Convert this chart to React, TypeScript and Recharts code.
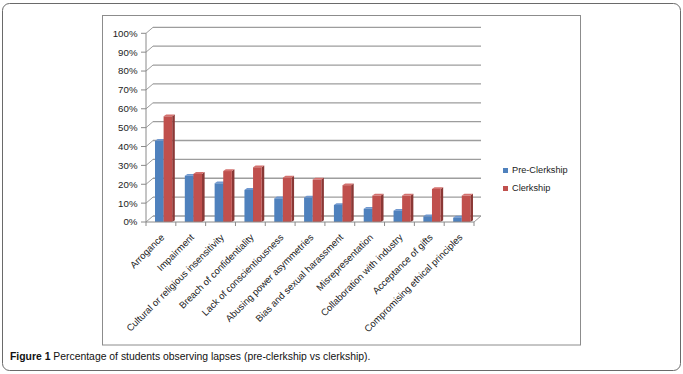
import React from 'react';
import { BarChart, Bar, XAxis, YAxis, CartesianGrid } from 'recharts';

const categories = [
  'Arrogance',
  'Impairment',
  'Cultural or religious insensitivity',
  'Breach of confidentiality',
  'Lack of conscientiousness',
  'Abusing power asymmetries',
  'Bias and sexual harassment',
  'Misrepresentation',
  'Collaboration with industry',
  'Acceptance of gifts',
  'Compromising ethical principles',
];
const preClerkship = [43, 24.5, 20.5, 17, 12.5, 13, 9, 7, 6, 3, 2.3];
const clerkship = [56, 25.5, 27, 29, 23.5, 22.5, 19.5, 14, 14, 17.5, 14];
const yTicks = [0, 10, 20, 30, 40, 50, 60, 70, 80, 90, 100];
const seriesNames = ['Pre-Clerkship', 'Clerkship'];
const captionLead = 'Figure 1';
const captionText = ' Percentage of students observing lapses (pre-clerkship vs clerkship).';

const data = categories.map((name, i) => ({
  name,
  pre: preClerkship[i],
  clerk: clerkship[i],
}));

const FONT = "'Liberation Sans', Arial, sans-serif";
const DX = 7;
const DY = 6;
const GRID = '#9d9d9d';
const AXIS = '#8a8a8a';

const palette = {
  pre: { front: '#4f81bd', top: '#7098cf', side: '#385e8e' },
  clerk: { front: '#c0504d', top: '#d4716e', side: '#8a3836' },
};

const make3D = (c: { front: string; top: string; side: string }) => (p: any) => {
  const { x, y, width, height } = p;
  if (width == null || height == null) return <g />;
  const bx = x + 3;
  const d = 2.6;
  const e = 1.8;
  return (
    <g>
      <polygon
        points={`${bx + width},${y} ${bx + width + d},${y - e} ${bx + width + d},${y + height - e} ${bx + width},${y + height}`}
        fill={c.side}
      />
      <polygon
        points={`${bx},${y} ${bx + d},${y - e} ${bx + width + d},${y - e} ${bx + width},${y}`}
        fill={c.top}
      />
      <rect x={bx} y={y} width={width} height={height} fill={c.front} />
    </g>
  );
};

const gridLine = (p: any) => {
  const { x1, x2, y1 } = p;
  return (
    <g key={p.key ?? `g-${y1}`}>
      <line x1={x1} y1={y1} x2={x1 + DX} y2={y1 - DY} stroke={GRID} strokeWidth={1} />
      <line x1={x1 + DX} y1={y1 - DY} x2={x2 + DX} y2={y1 - DY} stroke={GRID} strokeWidth={1.3} />
    </g>
  );
};

const YTick = (p: any) => {
  const { x, y, payload } = p;
  return (
    <g>
      <line x1={x - 5} y1={y} x2={x} y2={y} stroke={AXIS} strokeWidth={1} />
      <text
        x={x - 8.5}
        y={y}
        dy="0.35em"
        textAnchor="end"
        fontSize={9.7}
        fontFamily={FONT}
        fill="#222"
      >
        {`${payload.value}%`}
      </text>
    </g>
  );
};

const XTick = (p: any) => {
  const { x, y, payload, index } = p;
  const off = payload && payload.offset ? payload.offset : 14.9;
  const count = p.visibleTicksCount ?? categories.length;
  const last = index === count - 1;
  const ax = x + 4;
  const ay = y + 16;
  return (
    <g>
      <line x1={x - off} y1={y} x2={x - off} y2={y + 4} stroke={AXIS} strokeWidth={1} />
      {last && (
        <>
          <line x1={x + off} y1={y} x2={x + off} y2={y + 4} stroke={AXIS} strokeWidth={1} />
          <line x1={x + off} y1={y} x2={x + off + DX} y2={y - DY} stroke={GRID} strokeWidth={1} />
        </>
      )}
      <text
        x={ax}
        y={ay}
        textAnchor="end"
        transform={`rotate(-45 ${ax} ${ay})`}
        fontSize={9.5}
        fontFamily={FONT}
        fill="#222"
      >
        {payload.value}
      </text>
    </g>
  );
};

export default function App() {
  return (
    <div
      style={{
        position: 'absolute',
        left: 0,
        top: 0,
        width: 683,
        height: 374,
        background: '#fff',
        fontFamily: FONT,
        overflow: 'hidden',
      }}
    >
      <svg width={683} height={374} style={{ position: 'absolute', left: 0, top: 0 }}>
        <rect x={2.5} y={3.5} width={678} height={367} rx={7} ry={7} fill="#fff" stroke="#6a6a6a" strokeWidth={1} />
        <rect x={102.5} y={15.5} width={478} height={329.5} fill="#fff" stroke="#8c8c8c" strokeWidth={1} />
      </svg>
      <div style={{ position: 'absolute', left: 0, top: 0 }}>
        <BarChart
          width={683}
          height={374}
          data={data}
          margin={{ top: 33.3, right: 209, bottom: 32, left: 100 }}
          barGap={0}
          barSize={8.6}
        >
          <CartesianGrid horizontal={gridLine} vertical={false} />
          <YAxis
            type="number"
            domain={[0, 100]}
            ticks={yTicks}
            interval={0}
            width={46}
            tickSize={0}
            tickMargin={0}
            tickLine={false}
            axisLine={{ stroke: AXIS, strokeWidth: 1 }}
            tick={<YTick />}
          />
          <XAxis
            dataKey="name"
            interval={0}
            height={120}
            tickSize={0}
            tickMargin={0}
            tickLine={false}
            axisLine={{ stroke: AXIS, strokeWidth: 1 }}
            tick={<XTick />}
          />
          <Bar dataKey="pre" name={seriesNames[0]} isAnimationActive={false} shape={make3D(palette.pre)} />
          <Bar dataKey="clerk" name={seriesNames[1]} isAnimationActive={false} shape={make3D(palette.clerk)} />
        </BarChart>
      </div>
      <div style={{ position: 'absolute', left: 503, top: 161, fontSize: 9.2, color: '#222', lineHeight: '18px' }}>
        {seriesNames.map((s, i) => (
          <div key={s} style={{ display: 'flex', alignItems: 'center', height: 18 }}>
            <span
              style={{
                display: 'inline-block',
                width: 5,
                height: 5,
                background: i === 0 ? palette.pre.front : palette.clerk.front,
                marginRight: 4,
              }}
            />
            <span>{s}</span>
          </div>
        ))}
      </div>
      <div
        style={{
          position: 'absolute',
          left: 10,
          top: 351,
          fontSize: 10.4,
          color: '#111',
          whiteSpace: 'nowrap',
        }}
      >
        <b>{captionLead}</b>
        {captionText}
      </div>
    </div>
  );
}
